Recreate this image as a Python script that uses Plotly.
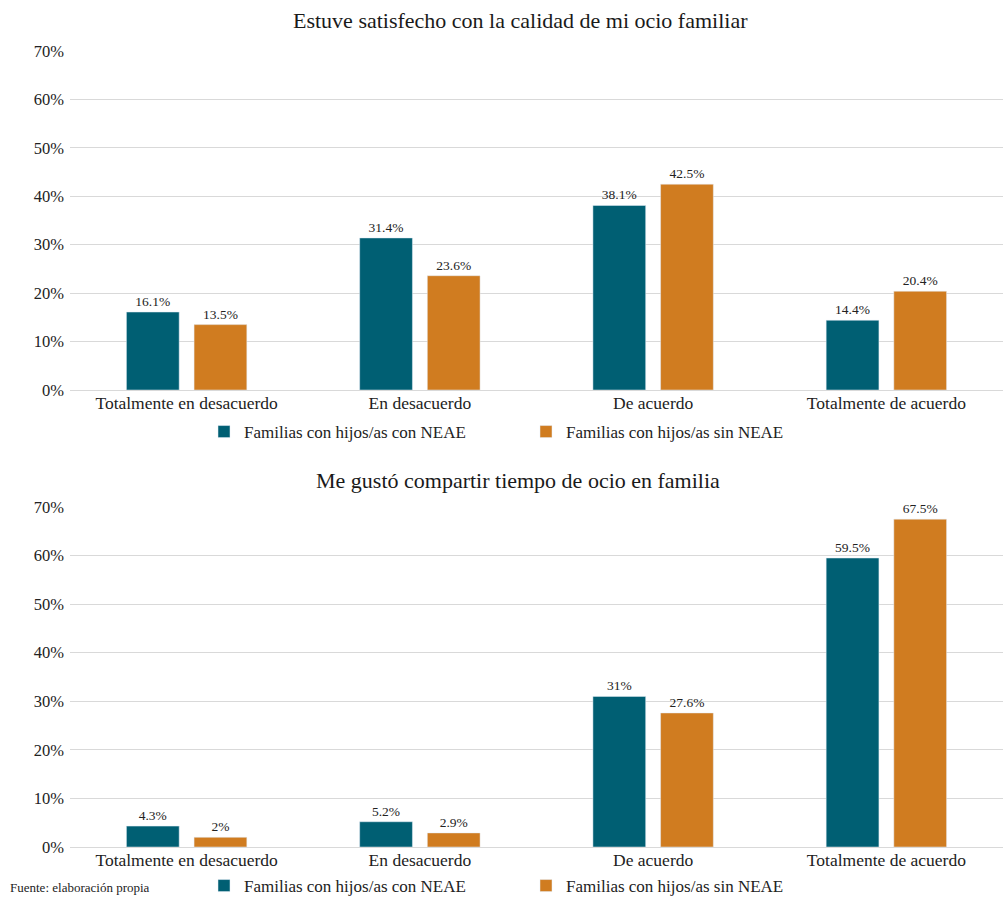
import plotly.graph_objects as go
from plotly.subplots import make_subplots

categories = ["Totalmente en desacuerdo", "En desacuerdo", "De acuerdo", "Totalmente de acuerdo"]
series_names = ["Familias con hijos/as con NEAE", "Familias con hijos/as sin NEAE"]

satisfecho_con = [16.1, 31.4, 38.1, 14.4]
satisfecho_sin = [13.5, 23.6, 42.5, 20.4]
gusto_con = [4.3, 5.2, 31, 59.5]
gusto_sin = [2, 2.9, 27.6, 67.5]

titles = ["Estuve satisfecho con la calidad de mi ocio familiar",
          "Me gustó compartir tiempo de ocio en familia"]
y_ticks = [0, 10, 20, 30, 40, 50, 60, 70]
y_tick_text = [f"{t}%" for t in y_ticks]

TEAL = "#005F73"
ORANGE = "#D07C20"
FONT = "Liberation Serif"
INK = "#222222"
W, H = 1003, 897

fig = make_subplots(rows=2, cols=1)


def fmt(v):
    return f"{v:g}%"


panels = [(satisfecho_con, satisfecho_sin, "legend"), (gusto_con, gusto_sin, "legend2")]
for row, (con, sin, leg) in enumerate(panels, start=1):
    for name, vals, color in [(series_names[0], con, TEAL), (series_names[1], sin, ORANGE)]:
        fig.add_trace(go.Bar(
            x=categories, y=vals, name=name, marker_color=color,
            text=[fmt(v) for v in vals], textposition="outside",
            textfont=dict(family=FONT, size=13.5, color=INK),
            cliponaxis=False, legend=leg,
        ), row=row, col=1)


def px_x(p):
    return p / W


def px_y(p):
    return 1 - p / H


left = 70
xdom = [px_x(left), 1.0]
top_dom = [px_y(390), px_y(51)]
bot_dom = [px_y(847), px_y(507)]

axis_common = dict(range=[0, 70], tickmode="array", tickvals=y_ticks, ticktext=y_tick_text,
                   showgrid=True, gridcolor="#D9D9D9", gridwidth=1,
                   zeroline=True, zerolinecolor="#D9D9D9", zerolinewidth=1,
                   tickfont=dict(family=FONT, size=16.5, color=INK),
                   showline=False, ticks="", ticklabelstandoff=5, automargin=False)
fig.update_yaxes(domain=top_dom, row=1, col=1, **axis_common)
fig.update_yaxes(domain=bot_dom, row=2, col=1, **axis_common)
fig.update_xaxes(domain=xdom, showgrid=False, showline=False, ticks="", automargin=False,
                 tickfont=dict(family=FONT, size=17.5, color=INK))

legend_style = dict(orientation="h", xanchor="left", x=px_x(204), yanchor="middle",
                    font=dict(family=FONT, size=17, color=INK),
                    bgcolor="rgba(0,0,0,0)", traceorder="normal",
                    entrywidth=277, entrywidthmode="pixels", itemclick=False)

fig.update_layout(
    width=W, height=H,
    margin=dict(l=0, r=0, t=0, b=0, autoexpand=False),
    paper_bgcolor="white", plot_bgcolor="white",
    barmode="group", bargap=0.42, bargroupgap=0.22,
    legend=dict(y=px_y(432), **legend_style),
    legend2=dict(y=px_y(886), **legend_style),
    font=dict(family=FONT, color=INK),
    annotations=[
        dict(text=titles[0], xref="paper", yref="paper", x=px_x(520), y=px_y(20),
             xanchor="center", yanchor="middle", showarrow=False,
             font=dict(family=FONT, size=22, color="#1a1a1a")),
        dict(text=titles[1], xref="paper", yref="paper", x=px_x(518), y=px_y(480),
             xanchor="center", yanchor="middle", showarrow=False,
             font=dict(family=FONT, size=22, color="#1a1a1a")),
        dict(text="Fuente: elaboración propia", xref="paper", yref="paper",
             x=px_x(8), y=0, xanchor="left", yanchor="bottom",
             showarrow=False, font=dict(family=FONT, size=13, color=INK)),
    ],
)

fig.write_html("out.html", post_script="document.body.style.margin='0';")
